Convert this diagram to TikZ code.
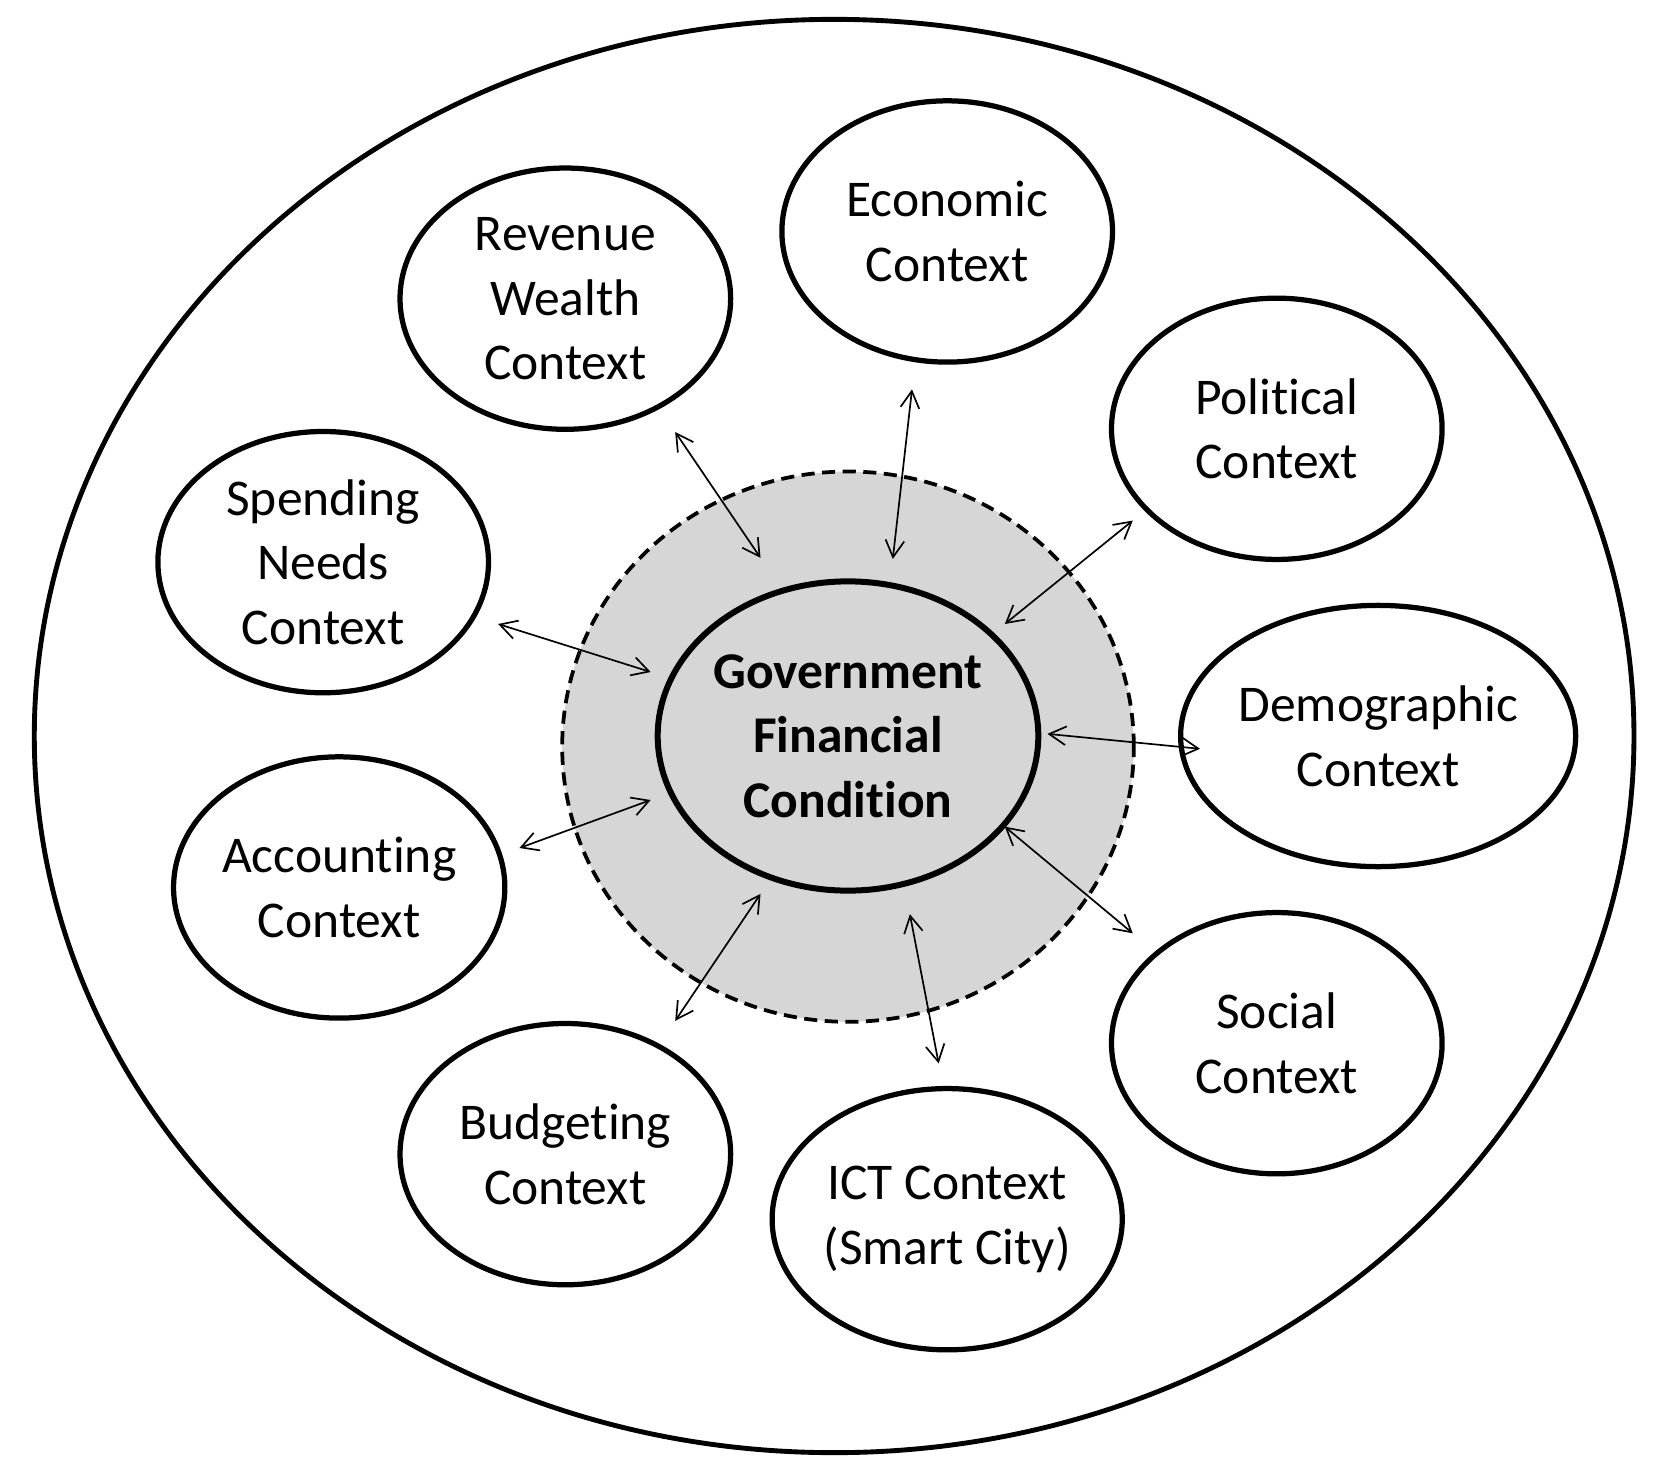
\documentclass[tikz,border=0pt]{standalone}
\usepackage{fontspec}
\setmainfont{Carlito}[RawFeature=-liga]
\usetikzlibrary{arrows.meta,shapes.geometric}
\begin{document}
\begin{tikzpicture}[x=0.02cm,y=-0.02cm,
  ctx/.style={draw,line width=2.8pt,ellipse,minimum width=6.2cm,minimum height=4.9cm,align=center,font=\fontsize{27.5}{34.5}\selectfont,inner sep=0pt},
  link/.style={line width=0.9pt,{Straight Barb[length=9pt,width=10pt]}-{Straight Barb[length=9pt,width=10pt]}}]
\useasboundingbox (0,0) rectangle (1560,1376);
\node[draw,line width=2.6pt,ellipse,minimum width=30cm,minimum height=26.88cm] (outer) at (782,690) {};
\node[draw,dash pattern=on 7pt off 4pt,line width=2pt,fill=black!16,ellipse,minimum width=10.72cm,minimum height=10.32cm] (ring) at (795,700) {};
\node[draw,line width=3.2pt,ellipse,minimum width=6.68cm,minimum height=5.8cm,align=center,font=\fontsize{27.5}{34.5}\selectfont\bfseries,inner sep=0pt] (gfc) at (795,690) {Government\\Financial\\Condition};
\node[ctx] (rev) at (530,280) {Revenue\\Wealth\\Context};
\node[ctx] (eco) at (888,217) {Economic\\Context};
\node[ctx] (pol) at (1197,402) {Political\\Context};
\node[ctx] (spe) at (303,527) {Spending\\Needs\\Context};
\node[ctx] (dem) at (1292,690) {Demographic\\Context};
\node[ctx] (acc) at (318,832) {Accounting\\Context};
\node[ctx] (soc) at (1197,978) {Social\\Context};
\node[ctx] (bud) at (530,1082) {Budgeting\\Context};
\node[ctx] (ict) at (888,1143) {ICT Context\\(Smart City)};
\coordinate (a1) at (633,405); \coordinate (b1) at (713,523);
\coordinate (a2) at (855,365); \coordinate (b2) at (837,524);
\coordinate (a3) at (1062,488); \coordinate (b3) at (942,585);
\coordinate (a4) at (467,585); \coordinate (b4) at (610,630);
\coordinate (a5) at (1125,702); \coordinate (b5) at (982,688);
\coordinate (a6) at (487,795); \coordinate (b6) at (610,750);
\coordinate (a7) at (1062,875); \coordinate (b7) at (942,775);
\coordinate (a8) at (633,957); \coordinate (b8) at (713,838);
\coordinate (a9) at (880,997); \coordinate (b9) at (853,857);
\foreach \i in {1,...,9} \draw[link] (a\i) -- (b\i);
\end{tikzpicture}
\end{document}
